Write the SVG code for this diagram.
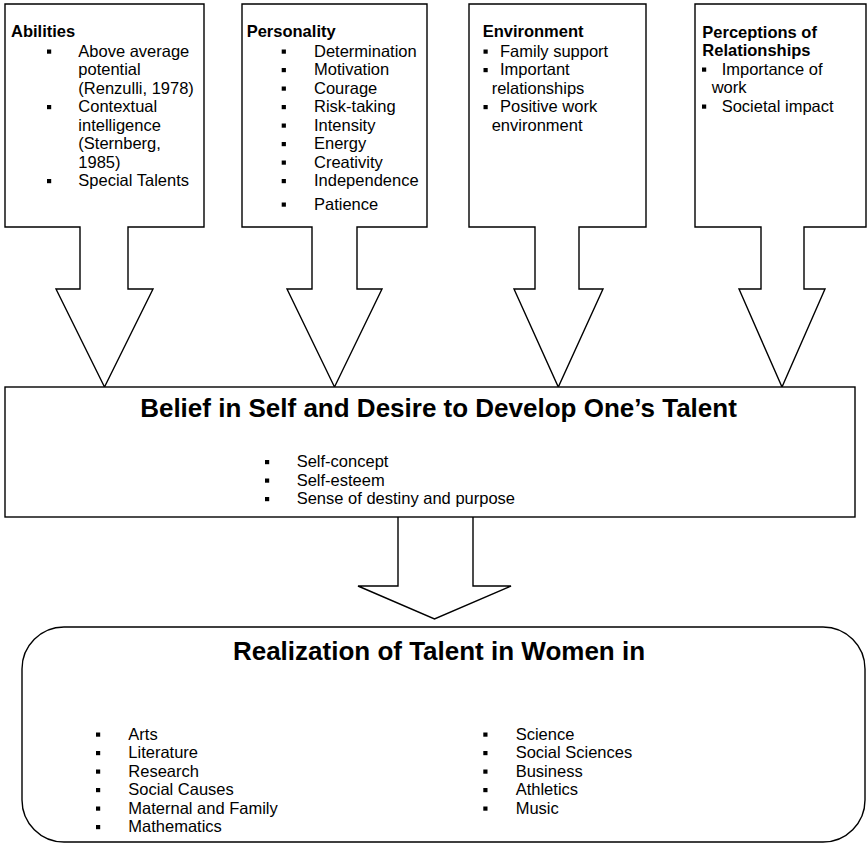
<svg xmlns="http://www.w3.org/2000/svg" width="868" height="846" viewBox="0 0 868 846">
<style>
.shape{fill:#fff;stroke:#000;stroke-width:1.4;stroke-linejoin:miter}
text{font-family:"Liberation Sans",Arial,Helvetica,sans-serif;fill:#000}
.t{font-size:16.5px}
.h{font-size:16.5px;font-weight:bold}
.big{font-size:26px;font-weight:bold}
.b{fill:#000}
</style>
<rect width="868" height="846" fill="#fff"/>
<g id="connectors">
  <path class="shape" d="M398,517 V586 H358 L434.5,619 L511,586 H473 V517"/>
</g>
<g id="abilities">
  <path class="shape" d="M5,4 H204 V227 H128 V289 H153 L104.5,387 L56,289 H80 V227 H5 Z"/>
  <text class="h" x="11" y="37">Abilities</text>
  <rect class="b" x="47" y="49.5" width="4.2" height="4.2"/>
  <text class="t" x="78.3" y="56.5">Above average</text>
  <text class="t" x="78.3" y="75">potential</text>
  <text class="t" x="78.3" y="93.5">(Renzulli, 1978)</text>
  <rect class="b" x="47" y="105" width="4.2" height="4.2"/>
  <text class="t" x="78.3" y="112">Contextual</text>
  <text class="t" x="78.3" y="130.5">intelligence</text>
  <text class="t" x="78.3" y="149">(Sternberg,</text>
  <text class="t" x="78.3" y="167.5">1985)</text>
  <rect class="b" x="47" y="179" width="4.2" height="4.2"/>
  <text class="t" x="78.3" y="186">Special Talents</text>
</g>
<g id="personality">
  <path class="shape" d="M242,4 H427 V227 H357 V289 H382 L334.5,387 L287,289 H312 V227 H242 Z"/>
  <text class="h" x="246.7" y="37">Personality</text>
  <rect class="b" x="281.7" y="49.5" width="4.2" height="4.2"/>
  <text class="t" x="314" y="56.5">Determination</text>
  <rect class="b" x="281.7" y="68" width="4.2" height="4.2"/>
  <text class="t" x="314" y="75">Motivation</text>
  <rect class="b" x="281.7" y="86.5" width="4.2" height="4.2"/>
  <text class="t" x="314" y="93.5">Courage</text>
  <rect class="b" x="281.7" y="105" width="4.2" height="4.2"/>
  <text class="t" x="314" y="112">Risk-taking</text>
  <rect class="b" x="281.7" y="123.5" width="4.2" height="4.2"/>
  <text class="t" x="314" y="130.5">Intensity</text>
  <rect class="b" x="281.7" y="142" width="4.2" height="4.2"/>
  <text class="t" x="314" y="149">Energy</text>
  <rect class="b" x="281.7" y="160.5" width="4.2" height="4.2"/>
  <text class="t" x="314" y="167.5">Creativity</text>
  <rect class="b" x="281.7" y="179" width="4.2" height="4.2"/>
  <text class="t" x="314" y="186">Independence</text>
  <rect class="b" x="281.7" y="202.5" width="4.2" height="4.2"/>
  <text class="t" x="314" y="209.5">Patience</text>
</g>
<g id="environment">
  <path class="shape" d="M469,4 H646 V227 H579 V289 H603 L558.3,387 L514,289 H535 V227 H469 Z"/>
  <text class="h" x="482.7" y="37">Environment</text>
  <rect class="b" x="483.5" y="49.5" width="4.2" height="4.2"/>
  <text class="t" x="500" y="56.5">Family support</text>
  <rect class="b" x="483.5" y="68" width="4.2" height="4.2"/>
  <text class="t" x="500" y="75">Important</text>
  <text class="t" x="491.7" y="93.5">relationships</text>
  <rect class="b" x="483.5" y="105" width="4.2" height="4.2"/>
  <text class="t" x="500" y="112">Positive work</text>
  <text class="t" x="491.7" y="130.5">environment</text>
</g>
<g id="perceptions">
  <path class="shape" d="M695,4 H866 V227 H804 V289 H825 L782,387 L739,289 H761 V227 H695 Z"/>
  <text class="h" x="702.3" y="37.5">Perceptions of</text>
  <text class="h" x="702.3" y="56">Relationships</text>
  <rect class="b" x="702" y="67.5" width="4.2" height="4.2"/>
  <text class="t" x="721.7" y="74.5">Importance of</text>
  <text class="t" x="711.7" y="93">work</text>
  <rect class="b" x="702" y="104.5" width="4.2" height="4.2"/>
  <text class="t" x="721.7" y="111.5">Societal impact</text>
</g>
<g id="belief">
  <rect class="shape" x="5" y="387" width="850" height="130"/>
  <text class="big" x="438.5" y="416.5" text-anchor="middle">Belief in Self and Desire to Develop One’s Talent</text>
  <rect class="b" x="265" y="460" width="4.2" height="4.2"/>
  <text class="t" x="296.7" y="467">Self-concept</text>
  <rect class="b" x="265" y="478.5" width="4.2" height="4.2"/>
  <text class="t" x="296.7" y="485.5">Self-esteem</text>
  <rect class="b" x="265" y="497" width="4.2" height="4.2"/>
  <text class="t" x="296.7" y="504">Sense of destiny and purpose</text>
</g>
<g id="realization">
  <rect class="shape" x="22" y="627" width="843" height="215" rx="42" ry="42"/>
  <text class="big" x="439" y="660" text-anchor="middle">Realization of Talent in Women in</text>
  <rect class="b" x="96" y="732.5" width="4.2" height="4.2"/>
  <text class="t" x="128.3" y="739.5">Arts</text>
  <rect class="b" x="96" y="751" width="4.2" height="4.2"/>
  <text class="t" x="128.3" y="758">Literature</text>
  <rect class="b" x="96" y="769.5" width="4.2" height="4.2"/>
  <text class="t" x="128.3" y="776.5">Research</text>
  <rect class="b" x="96" y="788" width="4.2" height="4.2"/>
  <text class="t" x="128.3" y="795">Social Causes</text>
  <rect class="b" x="96" y="806.5" width="4.2" height="4.2"/>
  <text class="t" x="128.3" y="813.5">Maternal and Family</text>
  <rect class="b" x="96" y="825" width="4.2" height="4.2"/>
  <text class="t" x="128.3" y="832">Mathematics</text>
  <rect class="b" x="483.3" y="732.5" width="4.2" height="4.2"/>
  <text class="t" x="515.7" y="739.5">Science</text>
  <rect class="b" x="483.3" y="751" width="4.2" height="4.2"/>
  <text class="t" x="515.7" y="758">Social Sciences</text>
  <rect class="b" x="483.3" y="769.5" width="4.2" height="4.2"/>
  <text class="t" x="515.7" y="776.5">Business</text>
  <rect class="b" x="483.3" y="788" width="4.2" height="4.2"/>
  <text class="t" x="515.7" y="795">Athletics</text>
  <rect class="b" x="483.3" y="806.5" width="4.2" height="4.2"/>
  <text class="t" x="515.7" y="813.5">Music</text>
</g>
</svg>
